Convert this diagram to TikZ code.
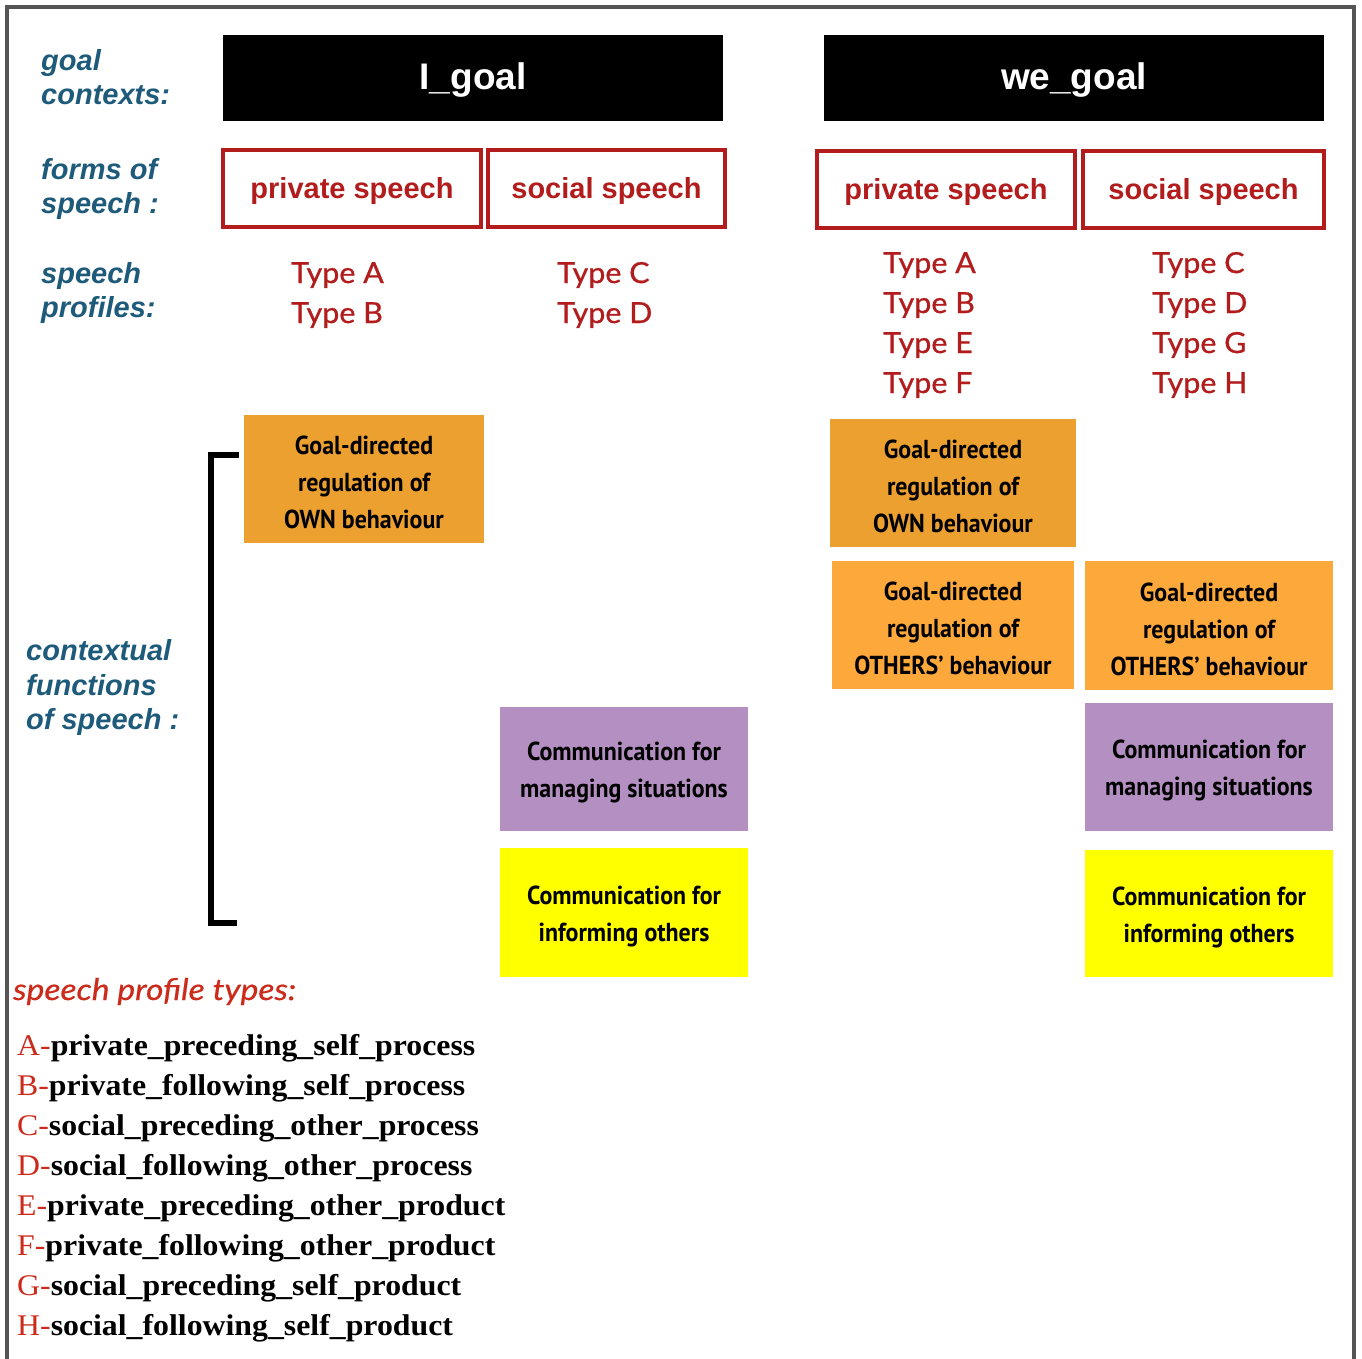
\documentclass[tikz,border=0pt]{standalone}
\usepackage{fontspec}
\setmainfont[FakeStretch=1.06]{Liberation Serif}
\newfontfamily\helv{Liberation Sans}
\newfontfamily\ave[FakeStretch=1.05,FakeBold=0.8]{Lato}
\newfontfamily\avei[FakeStretch=1.12,FakeBold=0.6]{Lato}
\newfontfamily\cond[FakeStretch=0.92]{PT Sans}
\definecolor{lblue}{RGB}{30,90,122}
\definecolor{bred}{RGB}{178,28,28}
\definecolor{tred}{RGB}{204,42,26}
\definecolor{frame}{RGB}{85,85,85}
\definecolor{orgA}{RGB}{236,160,48}
\definecolor{orgB}{RGB}{252,168,58}
\definecolor{purp}{RGB}{180,143,194}
\definecolor{yell}{RGB}{255,255,0}
\begin{document}
\begin{tikzpicture}[x=1pt,y=-1pt,
  lbl/.style={anchor=base west, inner sep=0pt, text=lblue, font=\helv\bfseries\itshape\fontsize{29}{34}\selectfont},
  goalbox/.style={fill=black, minimum width=500pt, minimum height=86pt, inner sep=0pt},
  goaltxt/.style={inner sep=0pt, yshift=-2pt, text=white, font=\helv\bfseries\fontsize{37}{40}\selectfont},
  formbox/.style={draw=bred, line width=4pt, minimum height=77pt, inner sep=0pt},
  formtxt/.style={inner sep=0pt, yshift=-2pt, text=bred, font=\helv\bfseries\fontsize{29}{34}\selectfont},
  typetxt/.style={anchor=base west, inner sep=0pt, text=bred, font=\ave\fontsize{29}{34}\selectfont},
  funcbox/.style={inner sep=0pt},
  functxt/.style={inner sep=0pt, align=center, yshift=-3.5pt, font=\cond\bfseries\fontsize{26}{37}\selectfont},
  listtxt/.style={anchor=base west, inner sep=0pt, font=\fontsize{30}{40}\selectfont}
]
\useasboundingbox (0,0) rectangle (1362,1358);
% frame
\draw[frame, line width=4pt] (7,1370) -- (7,7) -- (1354,7) -- (1354,1370);

% row labels
\node[lbl] (gc1) at (41,70) {goal};
\node[lbl] (gc2) at (41,104) {contexts:};
\node[lbl] (fs1) at (41,179) {forms of};
\node[lbl] (fs2) at (41,213) {speech :};
\node[lbl] (sp1) at (41,283) {speech};
\node[lbl] (sp2) at (41,317) {profiles:};
\node[lbl] (cf1) at (26,660) {contextual};
\node[lbl] (cf2) at (26,695) {functions};
\node[lbl] (cf3) at (26,729) {of speech :};

% goal boxes
\node[goalbox, label={[goaltxt]center:I\_goal}] (igoal) at (473,78) {};
\node[goalbox, label={[goaltxt]center:we\_goal}] (wegoal) at (1074,78) {};

% form boxes
\node[formbox, minimum width=258pt, label={[formtxt]center:private speech}] (ipriv) at (352,188.5) {};
\node[formbox, minimum width=237pt, label={[formtxt]center:social speech}] (isoc) at (606.5,188.5) {};
\node[formbox, minimum width=258pt, label={[formtxt]center:private speech}] (wpriv) at (946,189.5) {};
\node[formbox, minimum width=241pt, label={[formtxt]center:social speech}] (wsoc) at (1203.5,189.5) {};

% types
\node[typetxt] (tA1) at (291,283) {Type A};
\node[typetxt] (tB1) at (291,323) {Type B};
\node[typetxt] (tC1) at (557,283) {Type C};
\node[typetxt] (tD1) at (557,323) {Type D};
\node[typetxt] (tA2) at (883,273) {Type A};
\node[typetxt] (tB2) at (883,313) {Type B};
\node[typetxt] (tE2) at (883,353) {Type E};
\node[typetxt] (tF2) at (883,393) {Type F};
\node[typetxt] (tC2) at (1152,273) {Type C};
\node[typetxt] (tD2) at (1152,313) {Type D};
\node[typetxt] (tG2) at (1152,353) {Type G};
\node[typetxt] (tH2) at (1152,393) {Type H};

% function boxes
\node[funcbox, fill=orgA, minimum width=240pt, minimum height=128pt,
  label={[functxt]center:{Goal-directed\\regulation of\\OWN behaviour}}] (own1) at (364,479) {};
\node[funcbox, fill=orgA, minimum width=246pt, minimum height=128pt,
  label={[functxt]center:{Goal-directed\\regulation of\\OWN behaviour}}] (own2) at (953,483) {};
\node[funcbox, fill=orgB, minimum width=242pt, minimum height=128pt,
  label={[functxt]center:{Goal-directed\\regulation of\\OTHERS’ behaviour}}] (oth1) at (953,625) {};
\node[funcbox, fill=orgB, minimum width=248pt, minimum height=129pt,
  label={[functxt]center:{Goal-directed\\regulation of\\OTHERS’ behaviour}}] (oth2) at (1209,625.5) {};
\node[funcbox, fill=purp, minimum width=248pt, minimum height=124pt,
  label={[functxt]center:{Communication for\\managing situations}}] (man1) at (624,769) {};
\node[funcbox, fill=purp, minimum width=248pt, minimum height=128pt,
  label={[functxt]center:{Communication for\\managing situations}}] (man2) at (1209,767) {};
\node[funcbox, fill=yell, minimum width=248pt, minimum height=129pt,
  label={[functxt]center:{Communication for\\informing others}}] (inf1) at (624,912.5) {};
\node[funcbox, fill=yell, minimum width=248pt, minimum height=127pt,
  label={[functxt]center:{Communication for\\informing others}}] (inf2) at (1209,913.5) {};

% bracket
\coordinate (bt) at (239,455);
\coordinate (bb) at (237,923);
\draw[line width=6pt, line cap=butt] (bt) -- (211,455) -- (211,923) -- (bb);

% legend
\node[anchor=base west, inner sep=0pt, text=tred, font=\avei\itshape\fontsize{30}{34}\selectfont] (leg) at (13,1000) {speech profile types:};
\node[listtxt] (lA) at (17,1055) {\textcolor{tred}{A-}\textbf{private\_preceding\_self\_process}};
\node[listtxt] (lB) at (17,1095) {\textcolor{tred}{B-}\textbf{private\_following\_self\_process}};
\node[listtxt] (lC) at (17,1135) {\textcolor{tred}{C-}\textbf{social\_preceding\_other\_process}};
\node[listtxt] (lD) at (17,1175) {\textcolor{tred}{D-}\textbf{social\_following\_other\_process}};
\node[listtxt] (lE) at (17,1215) {\textcolor{tred}{E-}\textbf{private\_preceding\_other\_product}};
\node[listtxt] (lF) at (17,1255) {\textcolor{tred}{F-}\textbf{private\_following\_other\_product}};
\node[listtxt] (lG) at (17,1295) {\textcolor{tred}{G-}\textbf{social\_preceding\_self\_product}};
\node[listtxt] (lH) at (17,1335) {\textcolor{tred}{H-}\textbf{social\_following\_self\_product}};
\end{tikzpicture}
\end{document}
